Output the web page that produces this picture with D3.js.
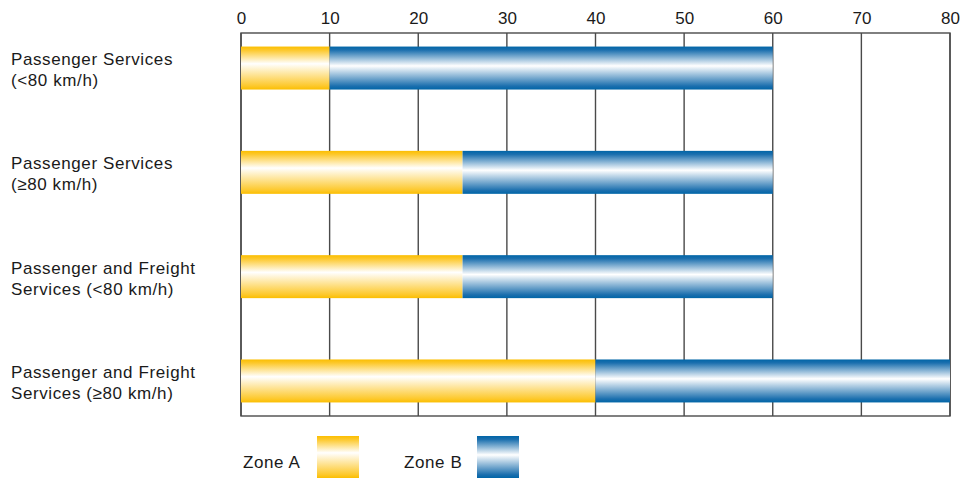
<!DOCTYPE html>
<html><head><meta charset="utf-8">
<script src="https://cdn.jsdelivr.net/npm/d3@7"></script>
<style>body{margin:0;background:#fff}svg{display:block}text{font-family:"Liberation Sans",Arial,sans-serif;fill:#1a1a1a}</style>
</head><body>
<script>
const categories = [
  ["Passenger Services", "(<80 km/h)"],
  ["Passenger Services", "(\u226580 km/h)"],
  ["Passenger and Freight", "Services (<80 km/h)"],
  ["Passenger and Freight", "Services (\u226580 km/h)"]
];
const zoneA = [10, 25, 25, 40];
const zoneB = [50, 35, 35, 40];
const tickValues = [0, 10, 20, 30, 40, 50, 60, 70, 80];
const seriesNames = ["Zone A", "Zone B"];

(function(){
const W = 963, H = 478;
const svg = d3.select("body").append("svg").attr("width", W).attr("height", H);
const defs = svg.append("defs");
function grad(id, edge, mid, whiteAt){
  const g = defs.append("linearGradient").attr("id", id).attr("x1",0).attr("y1",0).attr("x2",0).attr("y2",1);
  g.append("stop").attr("offset","0%").attr("stop-color",edge);
  g.append("stop").attr("offset","8%").attr("stop-color",mid);
  g.append("stop").attr("offset",whiteAt).attr("stop-color","#ffffff");
  g.append("stop").attr("offset","92%").attr("stop-color",mid);
  g.append("stop").attr("offset","100%").attr("stop-color",edge);
}
grad("gA", "#fbbe00", "#fdc82a", "40%");
grad("gB", "#0065a7", "#1b6fae", "45%");

const mL = 241, mR = 950, mT = 33, mB = 416;
const x = d3.scaleLinear().domain([0, 80]).range([mL, mR]);
const keys = categories.map((c,i)=>i);
const y = d3.scaleBand().domain(keys).range([mT, mB]).paddingInner(0.588).paddingOuter(0.13);

// grid
svg.append("g").selectAll("line").data(tickValues).join("line")
  .attr("x1", d=>x(d)).attr("x2", d=>x(d)).attr("y1", mT).attr("y2", mB)
  .attr("stroke", "#4a4a4a").attr("stroke-width", 1.4);
svg.append("rect").attr("x", mL).attr("y", mT).attr("width", mR-mL).attr("height", mB-mT)
  .attr("fill","none").attr("stroke","#4a4a4a").attr("stroke-width",1.4);

// axis labels
const axis = d3.axisTop(x).tickValues(tickValues).tickSize(0).tickPadding(9);
const ag = svg.append("g").attr("transform", `translate(0,${mT})`).call(axis);
ag.select(".domain").remove();
ag.selectAll("text").style("font-size","17px").style("font-family","'Liberation Sans',Arial,sans-serif").attr("fill","#1a1a1a");

// bars
const stacked = keys.map(i => [
  {s:0, x0:0, x1:zoneA[i], i},
  {s:1, x0:zoneA[i], x1:zoneA[i]+zoneB[i], i}
]).flat();
svg.append("g").selectAll("rect").data(stacked).join("rect")
  .attr("x", d=>x(d.x0)).attr("width", d=>x(d.x1)-x(d.x0))
  .attr("y", d=>y(d.i)).attr("height", y.bandwidth())
  .attr("fill", d=> d.s===0 ? "url(#gA)" : "url(#gB)");

// category labels
const lg = svg.append("g");
keys.forEach(i=>{
  const cy = y(i) + y.bandwidth()/2;
  const t = lg.append("text").attr("x", 11).attr("y", cy - 3)
    .style("font-size","17px").style("letter-spacing","0.6px");
  t.append("tspan").attr("x",11).text(categories[i][0]);
  t.append("tspan").attr("x",11).attr("dy", 21).text(categories[i][1]);
});

// legend
const legX = [243, 404];
const sw = [317, 477];
seriesNames.forEach((n,i)=>{
  svg.append("text").attr("x", legX[i]).attr("y", 468)
    .style("font-size","17px").style("letter-spacing","0.6px").text(n);
  svg.append("rect").attr("x", sw[i]).attr("y", 436).attr("width", 42).attr("height", 42)
    .attr("fill", i===0 ? "url(#gA)" : "url(#gB)");
});
})();
</script>
</body></html>
